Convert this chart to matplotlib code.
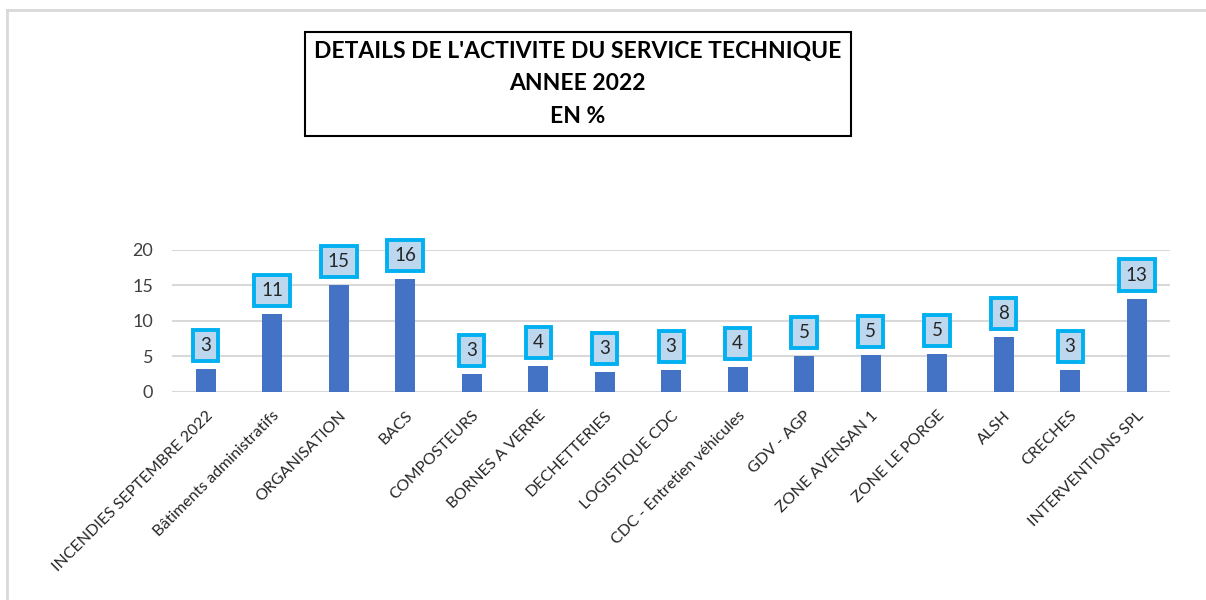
import matplotlib.pyplot as plt
from matplotlib.lines import Line2D

plt.rcParams['font.family'] = ['Lato', 'DejaVu Sans']

categories = ["INCENDIES SEPTEMBRE 2022", "Bâtiments administratifs", "ORGANISATION",
              "BACS", "COMPOSTEURS", "BORNES A VERRE", "DECHETTERIES", "LOGISTIQUE CDC",
              "CDC - Entretien véhicules", "GDV - AGP", "ZONE AVENSAN 1", "ZONE LE PORGE",
              "ALSH", "CRECHES", "INTERVENTIONS SPL"]
values = [3.15, 10.9, 15.0, 15.8, 2.5, 3.6, 2.8, 3.1, 3.45, 5.0, 5.15, 5.35, 7.65, 3.0, 13.1]
labels = ["3", "11", "15", "16", "3", "4", "3", "3", "4", "5", "5", "5", "8", "3", "13"]
yticks = [0, 5, 10, 15, 20]

fig = plt.figure(figsize=(12.06, 6), dpi=100)
ax = fig.add_axes([0.143, 0.347, 0.827, 0.237])

x = range(len(categories))
ax.bar(x, values, width=0.3, color='#4472C4', zorder=3)
ax.set_xlim(-0.5, len(categories) - 0.5)
ax.set_ylim(0, 20)
ax.set_yticks(yticks)
ax.yaxis.grid(True, color='#D9D9D9', linewidth=1.5, zorder=0)
ax.tick_params(axis='both', length=0, labelsize=13, colors='#404040')
ax.tick_params(axis='y', pad=14)
for s in ax.spines.values():
    s.set_visible(False)

ax.set_xticks(list(x))
ax.set_xticklabels(categories, rotation=45, ha='right', rotation_mode='anchor',
                   fontsize=11.5, color='#262626')
ax.tick_params(axis='x', pad=12)

for i, v in enumerate(values):
    ax.annotate(labels[i], (i, v), xytext=(0, 17), textcoords='offset points',
                ha='center', va='center', fontsize=13.5, color='#262626', clip_on=False,
                bbox=dict(boxstyle='square,pad=0.38', fc='#BDD7EE', ec='#00B0F0', lw=2.8),
                zorder=5)

fig.text(0.479, 0.86, "DETAILS DE L'ACTIVITE DU SERVICE TECHNIQUE\nANNEE 2022\nEN %",
         ha='center', va='center', fontsize=16.5, fontweight='bold', linespacing=1.68,
         bbox=dict(boxstyle='square,pad=0.4', fc='white', ec='black', lw=1.5))

# chart area border (top and left)
fig.add_artist(Line2D([0.006, 1.0], [0.983, 0.983], color='#D9D9D9', lw=2))
fig.add_artist(Line2D([0.006, 0.006], [0.0, 0.983], color='#D9D9D9', lw=2))

fig.savefig('out.png', dpi=100)
